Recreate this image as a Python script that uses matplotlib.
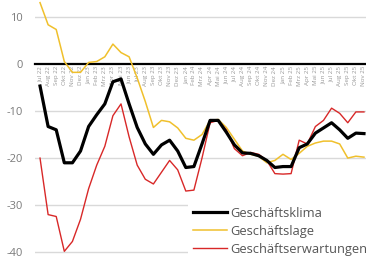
import numpy as np
from matplotlib import pyplot as plt

plt.rcParams['font.family'] = ['Open Sans', 'DejaVu Sans']

# month labels Jul 22 .. Nov 25
month_names = ['Jan', 'Feb', 'Mrz', 'Apr', 'Mai', 'Jun', 'Jul', 'Aug', 'Sep', 'Okt', 'Nov', 'Dez']
months = [m + ' ' + y for y in ['22', '23', '24', '25'] for m in month_names][6:47]

klima = [-4.7, -13.3, -14.0, -21.0, -21.0, -18.5, -13.3, -10.8, -8.5, -3.8, -3.2,
         -8.5, -13.5, -17.0, -19.2, -17.2, -16.2, -18.5, -22.0, -21.8, -17.0,
         -12.0, -12.0, -14.5, -17.2, -18.9, -19.0, -19.5, -20.5, -22.0, -21.8,
         -21.8, -17.8, -17.0, -14.7, -13.6, -12.5, -14.0, -15.8, -14.7, -14.8]
lage = [13.0, 8.3, 7.3, 0.5, -1.8, -1.8, 0.3, 0.5, 1.5, 4.2, 2.4,
        1.5, -3.0, -8.0, -13.5, -12.0, -12.3, -13.6, -15.8, -16.2, -15.0,
        -12.0, -11.8, -13.5, -16.0, -18.5, -19.2, -19.6, -21.0, -20.5, -19.2,
        -20.3, -19.0, -17.5, -16.8, -16.4, -16.4, -17.0, -20.0, -19.6, -19.8]
erwartung = [-20.0, -32.0, -32.4, -39.8, -37.7, -33.0, -26.5, -21.5, -17.5, -11.0, -8.5,
             -15.5, -21.5, -24.5, -25.5, -23.0, -20.5, -22.5, -27.0, -26.8, -20.0,
             -12.5, -12.0, -14.0, -18.0, -19.5, -18.8, -19.2, -20.5, -23.3, -23.4,
             -23.3, -16.2, -17.0, -13.3, -12.0, -9.4, -10.5, -12.5, -10.2, -10.2]

x = np.arange(len(months))

fig = plt.figure(figsize=(3.66, 2.57), dpi=100)
ax = fig.add_axes([35 / 366, 0, 1 - 35 / 366, 1])

for v in [10, -10, -20, -30, -40]:
    ax.axhline(v, color='#d9d9d9', lw=1, zorder=0)

l1, = ax.plot(x, klima, color='black', lw=2.3, label='Geschäftsklima', zorder=4)
l2, = ax.plot(x, lage, color='#f0c02c', lw=1.1, label='Geschäftslage', zorder=3)
l3, = ax.plot(x, erwartung, color='#d82828', lw=1.0, label='Geschäftserwartungen', zorder=3)

ax.set_xlim(-0.62, 40.25)
ax.set_ylim(-41.0, 13.56)

for s in ['top', 'right', 'left']:
    ax.spines[s].set_visible(False)
ax.spines['bottom'].set_position(('data', 0))
ax.spines['bottom'].set_linewidth(1.6)
ax.spines['bottom'].set_zorder(2)

ax.set_xticks(x)
ax.set_xticklabels(months, rotation=90, fontsize=4.5, color='#999999')
ax.tick_params(axis='x', length=0, pad=1.5)
ax.set_yticks([10, 0, -10, -20, -30, -40])
ax.set_yticklabels(['10', '0', '-10', '-20', '-30', '-40'])
ax.tick_params(axis='y', length=0, pad=9, labelsize=8, labelcolor='#7a7a7a')
ax.patch.set_alpha(0)

leg = ax.legend(handles=[l1, l2, l3], loc='lower left', bbox_to_anchor=(188 / 366, -4 / 257),
                bbox_transform=fig.transFigure, frameon=True, fancybox=False,
                edgecolor='none', facecolor='white', framealpha=1,
                fontsize=9.3, handlelength=2.6, handletextpad=0.25,
                labelspacing=0.38, borderpad=0.4, borderaxespad=0)
for t in leg.get_texts():
    t.set_color('#555555')
leg.set_zorder(5)

fig.savefig('out.png', dpi=100)
